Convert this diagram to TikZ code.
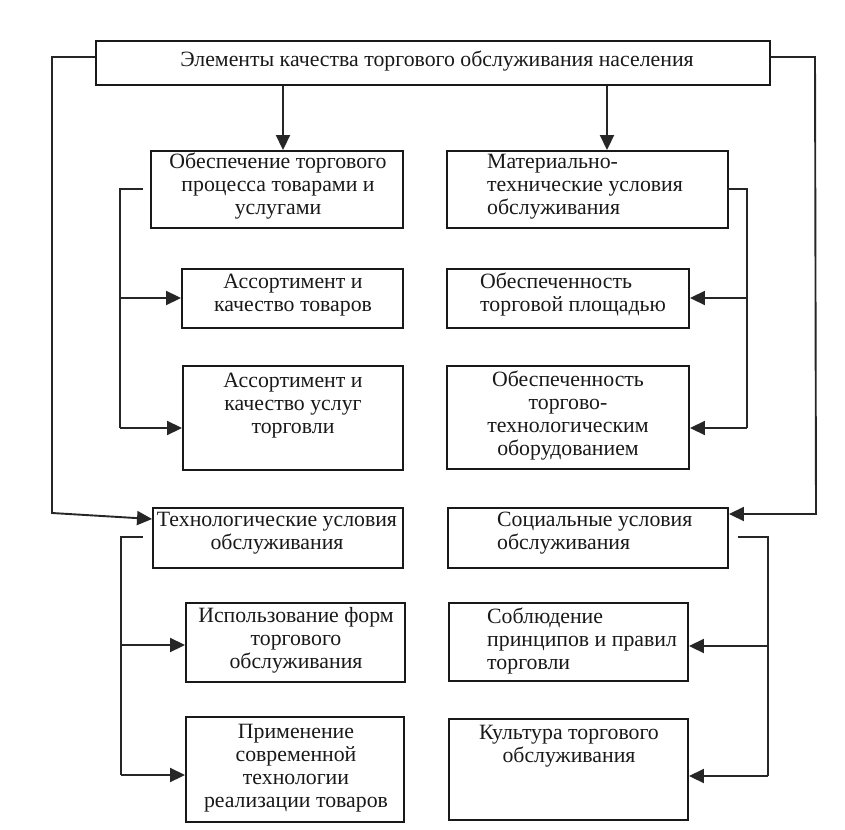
\documentclass[tikz,border=0pt]{standalone}
\usepackage{fontspec}
\setmainfont{Liberation Serif}
\usetikzlibrary{arrows.meta,fit}
\begin{document}
\begin{tikzpicture}[x=1pt,y=-1pt,
  box/.style={draw=black!90,line width=1.9pt,inner sep=0pt,rectangle},
  txt/.style={font=\fontsize{21.8}{23}\selectfont,text=black!90,inner sep=0pt,align=center},
  ln/.style={draw=black!85,line width=1.9pt},
  arr/.style={ln,-{Triangle[length=15pt,width=14pt]}}]
\useasboundingbox (0,0) rectangle (845,829);
% boxes
\node[box,fit={(96,41)(770,85)}] (top) {};
\node[box,fit={(151,151)(403,228)}] (ob) {};
\node[box,fit={(447,151)(728,228)}] (mat) {};
\node[box,fit={(182,269)(403,328)}] (a1) {};
\node[box,fit={(183,366)(403,470)}] (a2) {};
\node[box,fit={(447,269)(689,328)}] (m1) {};
\node[box,fit={(447,366)(689,469)}] (m2) {};
\node[box,fit={(153,508)(403,568)}] (tech) {};
\node[box,fit={(448,508)(728,568)}] (soc) {};
\node[box,fit={(186,603)(405,682)}] (t1) {};
\node[box,fit={(186,717)(404,822)}] (t2) {};
\node[box,fit={(449,603)(688,681)}] (s1) {};
\node[box,fit={(449,719)(688,820)}] (s2) {};
% texts
\node[txt] (ttop) at (437,61) {Элементы качества торгового обслуживания населения};
\node[txt] (tob) at (278,186) {Обеспечение торгового\\процесса товарами и\\услугами};
\node[txt,align=left,anchor=west] (tmat) at (487,187) {Материально-\\технические условия\\обслуживания};
\node[txt] (ta1) at (293,295) {Ассортимент и\\качество товаров};
\node[txt] (ta2) at (293,406) {Ассортимент и\\качество услуг\\торговли};
\node[txt,align=left,anchor=west] (tm1) at (480,295) {Обеспеченность\\торговой площадью};
\node[txt] (tm2) at (568,416) {Обеспеченность\\торгово-\\технологическим\\оборудованием};
\node[txt] (ttech) at (277,533) {Технологические условия\\обслуживания};
\node[txt,align=left,anchor=west] (tsoc) at (497,533) {Социальные условия\\обслуживания};
\node[txt] (tt1) at (296,640) {Использование форм\\торгового\\обслуживания};
\node[txt] (tt2) at (296,768) {Применение\\современной\\технологии\\реализации товаров};
\node[txt,align=left,anchor=west] (ts1) at (487,641) {Соблюдение\\принципов и правил\\торговли};
\node[txt] (ts2) at (569,746) {Культура торгового\\обслуживания};
% free ends
\coordinate (bl1) at (143,189);
\coordinate (br1) at (727,189);
\coordinate (bl2) at (143,537);
\coordinate (br2) at (738,537);
% top arrows
\draw[arr] (top.south -| 283,0) -- (ob.north -| 283,0);
\draw[arr] (top.south -| 607,0) -- (mat.north -| 607,0);
% outer lines
\draw[arr] (top.west |- 0,57) -- (52,57) -- (52,513) -- (tech.west |- 0,519);
\draw[arr] (top.east |- 0,57) -- (815,57) -- (816,514) -- (soc.east |- 0,514);
% brackets
\draw[ln] (bl1) -- (120,189) -- (120,428);
\draw[arr] (120,298) -- (a1.west |- 0,298);
\draw[arr] (120,428) -- (a2.west |- 0,428);
\draw[ln] (br1) -- (747,189) -- (747,428);
\draw[arr] (747,298) -- (m1.east |- 0,298);
\draw[arr] (747,428) -- (m2.east |- 0,428);
\draw[ln] (bl2) -- (121,537) -- (121,775);
\draw[arr] (121,645) -- (t1.west |- 0,645);
\draw[arr] (121,775) -- (t2.west |- 0,775);
\draw[ln] (br2) -- (768,537) -- (768,776);
\draw[arr] (768,646) -- (s1.east |- 0,646);
\draw[arr] (768,776) -- (s2.east |- 0,776);
\end{tikzpicture}
\end{document}
